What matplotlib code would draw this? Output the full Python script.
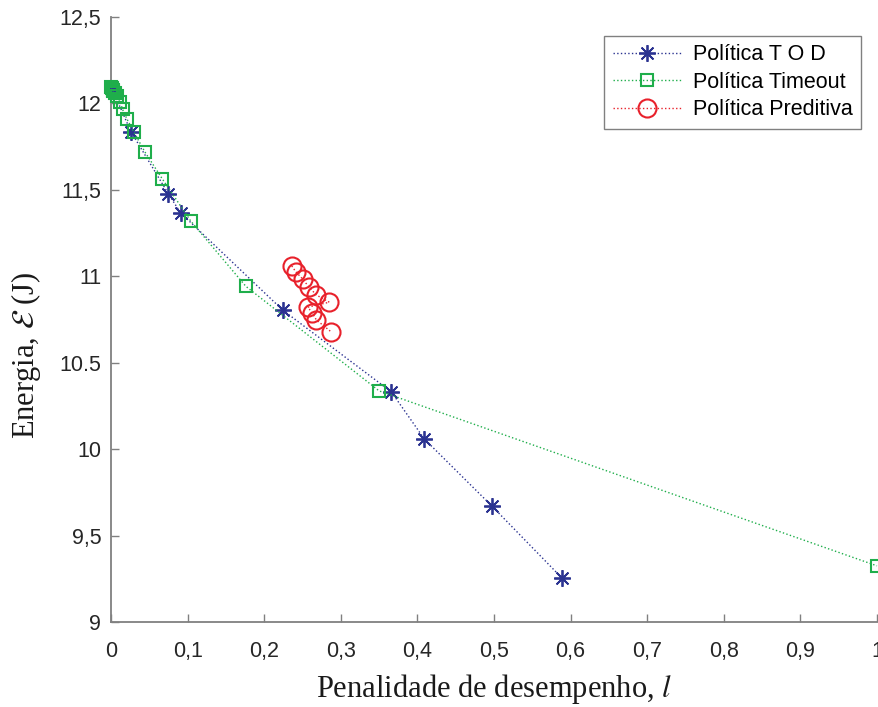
import matplotlib
matplotlib.use("Agg")
import matplotlib.pyplot as plt

# Penalty (x) vs. energy (y) for three power-management policies
tod_x = [0.001, 0.002, 0.026, 0.075, 0.091, 0.224, 0.366, 0.409, 0.497, 0.589]
tod_y = [12.085, 12.078, 11.837, 11.476, 11.366, 10.805, 10.331, 10.059, 9.672, 9.253]

timeout_x = [0.000, 0.001, 0.002, 0.003, 0.005, 0.008, 0.012, 0.015, 0.021,
             0.030, 0.044, 0.067, 0.104, 0.176, 0.350, 1.000]
timeout_y = [12.095, 12.088, 12.080, 12.072, 12.058, 12.040, 12.010, 11.966,
             11.908, 11.833, 11.721, 11.563, 11.320, 10.942, 10.337, 9.325]

pred_x = [0.236, 0.241, 0.250, 0.258, 0.268, 0.285, 0.257, 0.263, 0.268, 0.287]
pred_y = [11.060, 11.027, 10.985, 10.940, 10.892, 10.850, 10.821, 10.786, 10.748, 10.680]

x_ticks = [0, 0.1, 0.2, 0.3, 0.4, 0.5, 0.6, 0.7, 0.8, 0.9, 1.0]
x_tick_labels = ["0", "0,1", "0,2", "0,3", "0,4", "0,5", "0,6", "0,7", "0,8", "0,9", "1"]
y_ticks = [9, 9.5, 10, 10.5, 11, 11.5, 12, 12.5]
y_tick_labels = ["9", "9,5", "10", "10.5", "11", "11,5", "12", "12,5"]

plt.rcParams["mathtext.fontset"] = "stix"
sans = ["Liberation Sans", "DejaVu Sans"]
serif = ["Liberation Serif", "DejaVu Serif"]

fig = plt.figure(figsize=(8.79, 7.07), dpi=100)
ax = fig.add_axes([0.1263, 0.1202, 0.8714, 0.8558])

blue = "#2b3391"
green = "#1fae4b"
red = "#e8212b"

asterisk = (8, 2, 0)

ax.plot(tod_x, tod_y, linestyle=":", color=blue, linewidth=1.0,
        marker=asterisk, markersize=12, markeredgewidth=1.3,
        label="Política T O D", clip_on=False, zorder=3)
ax.plot(timeout_x, timeout_y, linestyle=":", color=green, linewidth=1.0,
        marker="s", markersize=8, markerfacecolor="none", markeredgewidth=1.5,
        label="Política Timeout", clip_on=False, zorder=4)
ax.plot(pred_x, pred_y, linestyle=":", color=red, linewidth=1.0,
        marker="o", markersize=13, markerfacecolor="none", markeredgewidth=1.5,
        label="Política Preditiva", clip_on=False, zorder=5)

ax.set_xlim(0, 1)
ax.set_ylim(9, 12.5)
ax.set_xticks(x_ticks)
ax.set_xticklabels(x_tick_labels, fontfamily=sans, fontsize=15.5, color="#262626")
ax.set_yticks(y_ticks)
ax.set_yticklabels(y_tick_labels, fontfamily=sans, fontsize=15.5, color="#262626")

ax.tick_params(direction="in", length=6, width=1.0, color="#808080")
ax.tick_params(axis="x", pad=14)
ax.tick_params(axis="y", pad=7)
for side in ("top", "right"):
    ax.spines[side].set_visible(False)
for side in ("left", "bottom"):
    ax.spines[side].set_color("#808080")
    ax.spines[side].set_linewidth(1.3)

ax.set_xlabel("Penalidade de desempenho, $l$", fontfamily=serif, fontsize=22,
              color="#1a1a1a", labelpad=7)
ax.set_ylabel(r"Energia, $\mathcal{E}$ (J)", fontfamily=serif, fontsize=22,
              color="#1a1a1a")
ax.yaxis.set_label_coords(-0.089, 0.44)

leg = ax.legend(loc="upper right", bbox_to_anchor=(0.979, 0.969), borderaxespad=0,
                prop={"family": sans, "size": 15.5}, handlelength=3.2,
                fancybox=False, framealpha=1, edgecolor="#808080",
                borderpad=0.4, labelspacing=0.3, handletextpad=0.5)
leg.get_frame().set_linewidth(1.0)

fig.savefig("out.png", dpi=100)
